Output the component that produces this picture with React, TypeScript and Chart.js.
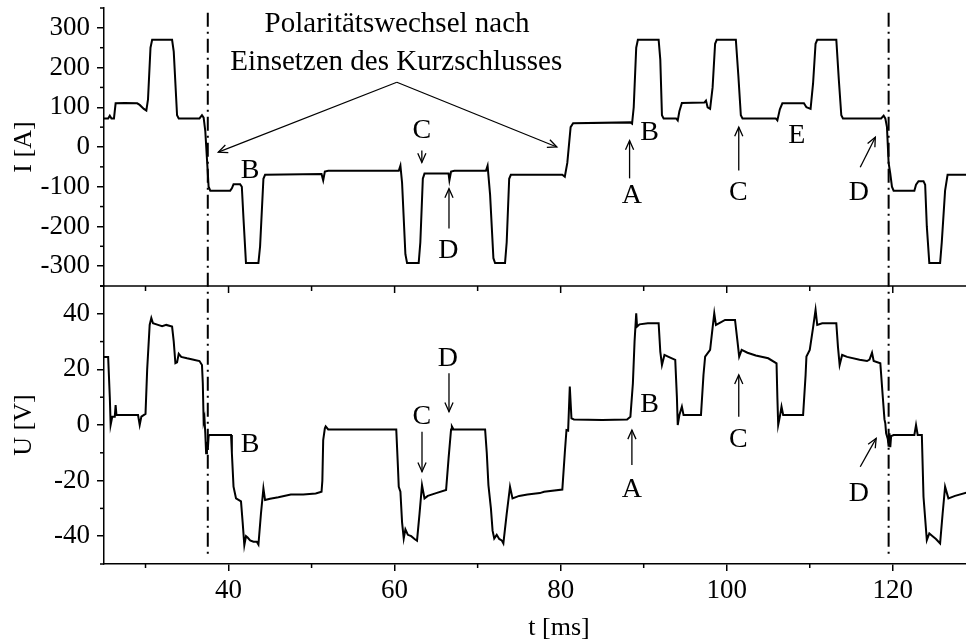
import React, { useEffect, useRef } from 'react';
import Chart from 'chart.js/auto';

// ---- Data -----------------------------------------------------------------
const currentTime = [
  25.0, 25.5, 25.7, 25.9, 26.2, 26.4, 27.5, 29.0, 29.3, 29.8, 30.1, 30.3, 30.6, 30.8, 33.2, 33.4, 33.8, 34.0,
  36.5, 36.8, 37.0, 37.2, 37.4, 37.6, 37.8, 40.2, 40.4, 40.6, 41.4, 41.6, 41.8, 42.1, 43.6, 43.8, 44.2, 44.4,
  51.2, 51.4, 51.6, 52.0, 60.5, 60.7, 60.9, 61.3, 61.5, 62.9, 63.1, 63.4, 63.6, 66.5, 66.6, 66.8, 67.2,
  71.0, 71.2, 71.5, 71.9, 72.1, 73.3, 73.5, 73.8, 74.0, 80.2, 80.5, 80.8, 81.2, 81.5, 88.4, 88.6, 88.8,
  89.1, 89.3, 91.8, 92.0, 92.2, 92.4, 93.9, 94.1, 94.3, 94.6, 97.3, 97.5, 97.7, 98.0, 98.3, 98.6, 98.8,
  101.1, 101.4, 101.7, 101.9, 105.9, 106.1, 106.4, 106.7, 109.3, 109.6, 110.1, 110.4, 110.7, 110.9,
  113.2, 113.5, 113.8, 114.0, 118.6, 118.9, 119.1, 119.3, 119.5, 119.7, 119.9, 120.1, 122.6, 122.8,
  123.1, 123.7, 123.9, 124.1, 124.4, 125.7, 125.9, 126.3, 126.6, 130.0,
];
const currentValues = [
  72, 72, 79, 72, 72, 110, 111, 110, 106, 96, 92, 120, 250, 270, 270, 240, 80, 72,
  72, 80, 74, 40, -30, -100, -110, -110, -104, -94, -94, -100, -180, -292, -292, -250, -80, -70,
  -68, -84, -62, -60, -60, -47, -90, -270, -292, -292, -240, -80, -67, -67, -84, -62, -60,
  -60, -47, -120, -280, -292, -292, -240, -80, -70, -70, -75, -40, 50, 60, 62, 59, 100,
  250, 270, 270, 220, 80, 72, 72, 67, 90, 111, 112, 117, 100, 96, 150, 260, 270,
  270, 180, 80, 72, 72, 67, 95, 110, 110, 100, 96, 160, 260, 270,
  270, 170, 80, 72, 72, 79, 72, 50, -40, -67, -100, -110, -110, -95,
  -86, -86, -95, -200, -292, -292, -240, -110, -70, -70,
];

const voltageTime = [
  25.0, 25.5, 25.7, 25.8, 26.0, 26.3, 26.4, 26.5, 29.1, 29.3, 29.5, 30.0, 30.2, 30.5, 30.7, 30.9, 31.5, 32.0,
  32.5, 33.2, 33.4, 33.6, 33.8, 34.0, 34.3, 35.0, 35.8, 36.5, 36.8, 36.9, 37.0, 37.1, 37.2, 37.3, 37.4, 37.5,
  37.6, 37.7, 40.3, 40.4, 40.6, 40.8, 40.9, 41.5, 41.7, 41.9, 42.1, 42.3, 42.6, 43.0, 43.4, 43.6, 43.9, 44.2,
  44.4, 45.0, 46.0, 47.5, 49.0, 50.5, 51.2, 51.3, 51.4, 51.6, 51.7, 52.0, 60.2, 60.4, 60.5, 60.7, 60.9, 61.1,
  61.3, 61.6, 62.0, 62.4, 62.7, 63.0, 63.3, 63.6, 64.0, 65.0, 66.2, 66.5, 66.8, 66.9, 67.1, 70.9, 71.1, 71.3,
  71.6, 71.8, 72.0, 72.3, 72.6, 72.9, 73.1, 73.5, 73.9, 74.2, 75.0, 76.0, 77.5, 78.0, 80.2, 80.5, 80.7, 80.9,
  81.1, 81.3, 81.6, 85.0, 88.0, 88.4, 88.7, 88.9, 89.1, 89.2, 89.5, 90.5, 91.8, 92.0, 92.2, 92.5, 93.0, 93.8,
  94.0, 94.1, 94.3, 94.6, 94.8, 96.9, 97.2, 97.4, 98.0, 98.3, 98.5, 98.7, 99.0, 99.8, 101.0, 101.3, 101.5,
  101.8, 102.5, 103.5, 105.0, 106.0, 106.1, 106.2, 106.4, 106.6, 106.8, 109.2, 109.5, 109.6, 110.0, 110.4,
  110.7, 110.9, 111.5, 113.2, 113.4, 113.6, 113.9, 114.5, 116.0, 116.9, 117.2, 117.5, 117.7, 118.5, 118.8,
  119.0, 119.1, 119.2, 119.4, 119.5, 119.6, 119.7, 119.8, 120.1, 122.6, 122.8, 123.0, 123.5, 123.7, 124.1,
  124.4, 124.8, 125.2, 125.7, 126.0, 126.3, 126.7, 127.5, 130.0,
];
const voltageValues = [
  24.5, 24.5, 10, 0, 3, 3, 7.2, 3.6, 3.6, 0, 3, 4, 20, 36, 38.5, 36.6, 36, 35.5,
  36, 35.4, 30, 22.2, 22.5, 25.6, 24.5, 24, 23.5, 23, 21.6, 15, 1.2, 2.5, -3, -10.2, -6, -9,
  -4, -3.6, -3.6, -10, -22.2, -25, -26.4, -27.5, -35, -43.2, -40, -40.5, -41.5, -42, -42, -43, -32, -22.8,
  -27, -26.5, -26, -25, -25, -24.6, -24, -20, -5.4, -1.2, -0.5, -1.6, -1.6, -15, -22.2, -24, -35, -40.8,
  -37.5, -39.5, -40, -41, -41.6, -32, -21.6, -26.4, -25.5, -24.5, -23.4, -12, -1.6, -0.5, -1.6, -1.6, -10, -21.6,
  -30, -38, -40.8, -39.5, -41, -41.5, -42.6, -32, -22.2, -26.4, -25.5, -25, -24.5, -24, -23.2, -10, -1.8, -2,
  13.8, 2.4, 2.0, 1.8, 2.0, 3, 15, 30, 40.2, 35.4, 36.2, 36.6, 36.6, 26.4, 21.6, 25.2, 24.5, 23.4,
  10, 0, 3.6, 6.6, 3.6, 3.6, 18, 24.6, 27, 35, 40.2, 36, 36.5, 37.8, 37.8, 30, 24.6,
  27, 26, 25, 24, 22.2, 10, 0, 3, 6.6, 3.6, 3.6, 18, 24.6, 27, 35,
  41.4, 36, 36.6, 36.6, 28, 21.6, 25.2, 24.5, 23.5, 23, 23.5, 26, 23, 22.2, 10,
  2, 0.6, -3, -5, -7.8, -3, -8, -4, -3.6, -3.6, 0, -3.6, -3.6, -25.8, -41.4,
  -39, -40, -41, -42.6, -32, -22.2, -26.4, -25.5, -23.4,
];

const xMajorTicks = [40, 60, 80, 100, 120];
const xMinorTicks = [30, 50, 70, 90, 110, 130];
const currentMajorTicks = [-300, -200, -100, 0, 100, 200, 300];
const currentMinorTicks = [-350, -250, -150, -50, 50, 150, 250, 350];
const voltageMajorTicks = [-40, -20, 0, 20, 40];
const voltageMinorTicks = [-50, -30, -10, 10, 30, 50];

// vertical dash-dot markers (t in ms) and their extent (I top, U bottom)
const markerTimes = [37.5, 119.5];
const markerTopCurrent = 338;
const markerBottomVoltage = -47.5;

// annotation letters: [text, t, value]
const currentLetters: [string, number, number][] = [
  ['B', 42.6, -59], ['C', 63.28, 41.5], ['D', 66.48, -260], ['B', 90.7, 37], ['A', 88.58, -122],
  ['C', 101.4, -116], ['E', 108.45, 29], ['D', 115.9, -116],
];
const voltageLetters: [string, number, number][] = [
  ['B', 42.6, -7.2], ['D', 66.4, 23.8], ['C', 63.28, 3], ['B', 90.7, 7.2], ['A', 88.58, -23.4],
  ['C', 101.4, -5.2], ['D', 115.9, -24.6],
];
// arrows: [t1, v1, t2(head), v2(head)]
const currentArrows: [number, number, number, number][] = [
  [63.28, -8.8, 63.28, -39], [66.55, -205, 66.55, -105], [88.3, -79, 88.3, 16],
  [101.45, -59, 101.45, 50], [116.08, -51, 117.9, 24.7],
  [60.27, 163, 38.77, -13], [60.27, 163, 79.54, 0],
];
const voltageArrows: [number, number, number, number][] = [
  [66.55, 18.6, 66.55, 4.8], [63.3, -2.4, 63.3, -16.8], [88.58, -14.4, 88.58, -1.8],
  [101.45, 3, 101.45, 18], [116.08, -15, 118.0, -4.8],
];
const titleLines: [string, number, number][] = [
  ['Polaritätswechsel nach', 60.3, 308],
  ['Einsetzen des Kurzschlusses', 60.2, 212.7],
];

const FONT = '"Liberation Serif", "Times New Roman", serif';

function arrow(ctx: CanvasRenderingContext2D, x1: number, y1: number, x2: number, y2: number) {
  ctx.beginPath();
  ctx.moveTo(x1, y1);
  ctx.lineTo(x2, y2);
  ctx.stroke();
  const ang = Math.atan2(y2 - y1, x2 - x1);
  const L = 10;
  const a = 0.42;
  ctx.beginPath();
  ctx.moveTo(x2 - L * Math.cos(ang - a), y2 - L * Math.sin(ang - a));
  ctx.lineTo(x2, y2);
  ctx.lineTo(x2 - L * Math.cos(ang + a), y2 - L * Math.sin(ang + a));
  ctx.stroke();
}

const overlayPlugin = {
  id: 'overlay',
  afterDraw(chart: any) {
    const { ctx, chartArea } = chart;
    const x = chart.scales.x;
    const yI = chart.scales.yI;
    const yU = chart.scales.yU;
    const left = chartArea.left;
    ctx.save();
    ctx.strokeStyle = '#000';
    ctx.lineWidth = 1.5;
    const seg = (a: number, b: number, c: number, d: number) => {
      ctx.beginPath();
      ctx.moveTo(a, b);
      ctx.lineTo(c, d);
      ctx.stroke();
    };
    // minor y ticks
    currentMinorTicks.forEach((v) => { const p = yI.getPixelForValue(v); seg(left - 4, p, left, p); });
    voltageMinorTicks.forEach((v) => { const p = yU.getPixelForValue(v); seg(left - 4, p, left, p); });
    // boundary between panels, ticks pointing down
    const yb = yI.bottom;
    seg(left - 4, yb, chartArea.right, yb);
    xMajorTicks.forEach((t) => { const p = x.getPixelForValue(t); seg(p, yb, p, yb + 7); });
    xMinorTicks.forEach((t) => { const p = x.getPixelForValue(t); seg(p, yb, p, yb + 5); });
    // minor x ticks at bottom
    xMinorTicks.forEach((t) => { const p = x.getPixelForValue(t); seg(p, chartArea.bottom, p, chartArea.bottom + 4); });

    // dash-dot markers
    ctx.save();
    ctx.lineWidth = 2;
    ctx.setLineDash([14, 5, 2, 5]);
    markerTimes.forEach((t) => {
      const p = x.getPixelForValue(t);
      seg(p, yI.getPixelForValue(markerTopCurrent), p, yU.getPixelForValue(markerBottomVoltage));
    });
    ctx.restore();

    // arrows
    ctx.lineWidth = 1.3;
    currentArrows.forEach(([t1, v1, t2, v2]) => {
      arrow(ctx, x.getPixelForValue(t1), yI.getPixelForValue(v1), x.getPixelForValue(t2), yI.getPixelForValue(v2));
    });
    voltageArrows.forEach(([t1, v1, t2, v2]) => {
      arrow(ctx, x.getPixelForValue(t1), yU.getPixelForValue(v1), x.getPixelForValue(t2), yU.getPixelForValue(v2));
    });

    // letters
    ctx.fillStyle = '#000';
    ctx.textAlign = 'center';
    ctx.textBaseline = 'middle';
    ctx.font = `28px ${FONT}`;
    currentLetters.forEach(([s, t, v]) => ctx.fillText(s, x.getPixelForValue(t), yI.getPixelForValue(v)));
    voltageLetters.forEach(([s, t, v]) => ctx.fillText(s, x.getPixelForValue(t), yU.getPixelForValue(v)));
    ctx.font = `29px ${FONT}`;
    titleLines.forEach(([s, t, v]) => ctx.fillText(s, x.getPixelForValue(t), yI.getPixelForValue(v)));
    ctx.restore();
  },
};

// The original figure continues past the right edge of the picture; the canvas is
// wider than the visible window and clipped, so the axis title sits where it did.
const CANVAS_W = 1014;
const X_MIN = 25;
const X_MAX = 134.6;

export default function App() {
  const ref = useRef<HTMLCanvasElement>(null);
  useEffect(() => {
    if (!ref.current) return;
    const tickFont = { family: FONT, size: 27 };
    const titleFont = { family: FONT, size: 26, lineHeight: 1 };
    const yCommon = (majors: number[]) => ({
      type: 'linear' as const,
      position: 'left' as const,
      stack: 'panels',
      stackWeight: 1,
      afterBuildTicks: (s: any) => { s.ticks = majors.map((v) => ({ value: v })); },
      afterFit: (s: any) => { s.width = 104; s.paddingTop = 0; s.paddingBottom = 0; },
      grid: { display: true, drawOnChartArea: false, drawTicks: true, tickLength: 7, color: '#000', lineWidth: 1.5 },
      border: { display: true, color: '#000', width: 1.5 },
      ticks: { font: tickFont, color: '#000', padding: 7, autoSkip: false },
    });
    const chart = new Chart(ref.current, {
      type: 'line',
      data: {
        datasets: [
          {
            data: currentTime.map((t, i) => ({ x: t, y: currentValues[i] })),
            yAxisID: 'yI', borderColor: '#000', borderWidth: 2, pointRadius: 0, tension: 0, fill: false,
          },
          {
            data: voltageTime.map((t, i) => ({ x: t, y: voltageValues[i] })),
            yAxisID: 'yU', borderColor: '#000', borderWidth: 2, pointRadius: 0, tension: 0, fill: false,
          },
        ],
      },
      options: {
        animation: false,
        responsive: false,
        maintainAspectRatio: false,
        layout: { padding: { top: 8, left: 0, right: 0, bottom: 0 } },
        plugins: { legend: { display: false }, tooltip: { enabled: false } },
        scales: {
          x: {
            type: 'linear', position: 'bottom', min: X_MIN, max: X_MAX,
            afterBuildTicks: (s: any) => { s.ticks = xMajorTicks.map((v) => ({ value: v })); },
            afterFit: (s: any) => { s.height = 75; s.paddingLeft = 0; s.paddingRight = 0; },
            grid: { display: true, drawOnChartArea: false, drawTicks: true, tickLength: 7, color: '#000', lineWidth: 1.5 },
            border: { display: true, color: '#000', width: 1.5 },
            ticks: { font: tickFont, color: '#000', padding: 4, maxRotation: 0, autoSkip: false },
            title: { display: true, text: 't [ms]', font: titleFont, color: '#000', padding: { top: 0, bottom: -2 } },
          },
          yU: {
            ...yCommon(voltageMajorTicks), min: -50, max: 50,
            title: { display: true, text: 'U [V]', font: titleFont, color: '#000', padding: { top: 11, bottom: 0 } },
          },
          yI: {
            ...yCommon(currentMajorTicks), min: -350, max: 350,
            title: { display: true, text: 'I [A]', font: titleFont, color: '#000', padding: { top: 11, bottom: 0 } },
          },
        },
      } as any,
      plugins: [overlayPlugin],
    });
    return () => chart.destroy();
  }, []);
  return (
    <div style={{ position: 'absolute', left: 0, top: 0, width: 966, height: 639, overflow: 'hidden', background: '#fff' }}>
      <canvas ref={ref} width={CANVAS_W} height={639} style={{ width: CANVAS_W, height: 639, display: 'block' }} />
    </div>
  );
}
